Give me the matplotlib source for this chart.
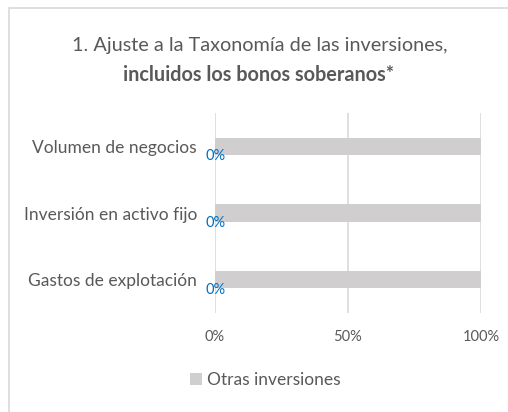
import matplotlib
matplotlib.use("Agg")
import matplotlib.pyplot as plt
from matplotlib.patches import Rectangle, Patch
from matplotlib.ticker import FuncFormatter

categories = ["Volumen de negocios", "Inversión en activo fijo", "Gastos de explotación"]
alineadas = [0, 0, 0]
otras = [100, 100, 100]
xticks = [0, 50, 100]
title1 = "1. Ajuste a la Taxonomía de las inversiones,"
title2 = "incluidos los bonos soberanos*"
legend_label = "Otras inversiones"

plt.rcParams['font.family'] = ['Lato', 'DejaVu Sans']
W, H = 508, 412
fig = plt.figure(figsize=(W/100, H/100), dpi=100)
fig.patch.set_facecolor('white')

# outer chart border (cut off at right/bottom)
fig.patches.append(Rectangle((8.5/W, -0.05), 1.2, 1 - 7.5/H + 0.05, transform=fig.transFigure,
                             fill=False, edgecolor='#D9D9D9', linewidth=1.2, clip_on=False))

ax = fig.add_axes([215/W, 1 - 313/H, (481-215)/W, 200/H])
y = list(range(len(categories)))
bars = ax.barh(y, otras, left=alineadas, height=0.26, color='#D0CECE', zorder=2)
ax.set_ylim(len(categories) - 0.5, -0.5)
ax.set_xlim(0, 100)
ax.set_xticks(xticks)
ax.xaxis.set_major_formatter(FuncFormatter(lambda v, p: f"{v:.0f}%"))
ax.set_yticks(y)
ax.set_yticklabels(categories)
for s in ax.spines.values():
    s.set_visible(False)
ax.grid(axis='x', color='#D9D9D9', linewidth=1.2, zorder=0)
ax.tick_params(axis='both', length=0, colors='#595959')
ax.tick_params(axis='x', labelsize=10.5, pad=12)
ax.tick_params(axis='y', labelsize=12.5, pad=13)

for yi, v in zip(y, alineadas):
    ax.annotate(f"{v}%", (v, yi), xytext=(-10, -10), textcoords='offset pixels',
                ha='left', va='center', fontsize=10.5, color='#0070C0', zorder=3)

fig.text(260/W, 1 - 45/H, title1, ha='center', va='center', fontsize=14.3, color='#595959')
fig.text(259/W, 1 - 75/H, title2, ha='center', va='center', fontsize=14.3, color='#595959', fontweight='bold')

fig.legend(handles=[Patch(facecolor='#D0CECE', edgecolor='none')], labels=[legend_label],
           loc='center', bbox_to_anchor=(265/W, 1 - 380/H), frameon=False, fontsize=12.5,
           labelcolor='#595959', handlelength=0.7, handleheight=0.7, handletextpad=0.3)

fig.savefig("out.png", dpi=100, facecolor='white')
